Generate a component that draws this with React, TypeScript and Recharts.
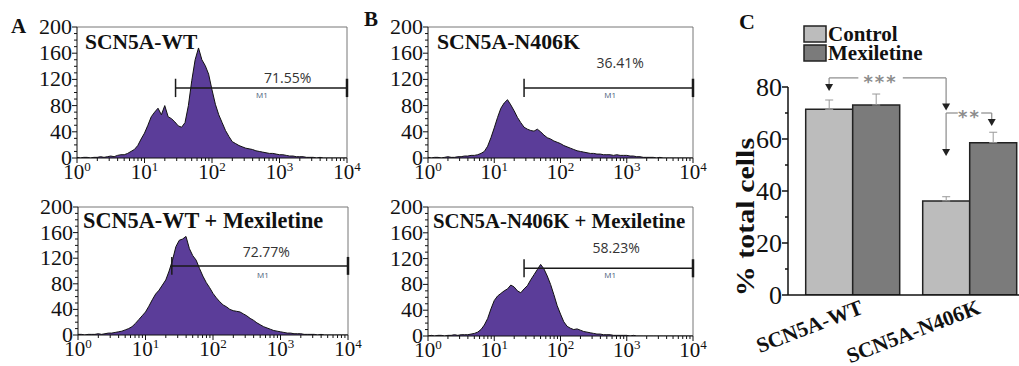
import React from 'react';
import {
  AreaChart, Area, XAxis, YAxis, ReferenceLine, ReferenceDot,
  BarChart, Bar, ErrorBar, Legend,
} from 'recharts';

// histogram channels, one every 0.05 decade from 10^0 to 10^4
const BIN_STEP = 0.05;

const wtCounts = [
  1, 0, 1, 1, 0, 1, 1, 2, 1, 2, 3, 2, 4, 5, 5, 7, 10, 13, 19, 29,
  38, 50, 63, 70, 76, 66, 80, 63, 60, 55, 49, 47, 54, 80, 118, 150, 168, 150, 141, 128,
  104, 82, 66, 54, 42, 33, 25, 22, 19, 17, 15, 14, 13, 11, 10, 9, 8, 7, 7, 6,
  5, 5, 4, 3, 3, 2, 2, 2, 1, 1, 1, 0, 1, 0, 0, 0, 0, 0, 0, 0, 0,
];
const wtMexCounts = [
  1, 1, 0, 1, 1, 1, 2, 1, 2, 3, 3, 4, 5, 6, 8, 10, 13, 18, 24, 30,
  36, 45, 55, 64, 70, 78, 86, 100, 117, 138, 148, 150, 154, 135, 124, 117, 104, 92, 82, 74,
  65, 58, 52, 47, 44, 40, 38, 37, 36, 33, 30, 26, 23, 19, 16, 13, 11, 9, 7, 6,
  5, 4, 3, 3, 2, 2, 2, 1, 1, 1, 1, 0, 1, 0, 0, 0, 0, 0, 0, 0, 0,
];
const n406kCounts = [
  1, 0, 1, 1, 0, 1, 2, 1, 1, 2, 2, 3, 3, 4, 4, 5, 7, 10, 18, 31,
  46, 62, 76, 84, 89, 81, 72, 62, 54, 47, 44, 42, 41, 44, 40, 35, 31, 29, 26, 24,
  22, 19, 17, 15, 13, 11, 10, 9, 8, 7, 7, 6, 6, 5, 5, 5, 4, 5, 4, 4,
  4, 3, 3, 2, 2, 1, 1, 1, 1, 0, 1, 0, 0, 0, 0, 0, 0, 0, 0, 0, 0,
];
const n406kMexCounts = [
  0, 1, 0, 1, 1, 0, 1, 1, 2, 1, 2, 2, 2, 3, 4, 6, 10, 17, 27, 42,
  55, 62, 66, 70, 73, 79, 76, 70, 67, 73, 78, 87, 95, 103, 111, 104, 93, 80, 64, 47,
  34, 22, 15, 12, 10, 11, 9, 7, 6, 5, 4, 3, 3, 2, 2, 2, 1, 1, 1, 1,
  1, 0, 1, 0, 0, 0, 0, 0, 0, 0, 0, 0, 0, 0, 0, 0, 0, 0, 0, 0, 0,
];

const countTicks = [0, 10, 20, 30, 40, 50, 60, 70, 80, 90, 100, 110, 120, 130, 140, 150, 160, 170, 180, 190, 200];

// panel C
const groups = ['SCN5A-WT', 'SCN5A-N406K'];
const groupSlots = [1, 3]; // centre of each group on the 0..4 annotation axis
const controlPct = [71.4, 36.2];
const mexPct = [73.1, 58.6];
const controlSem = [3.6, 1.6];
const mexSem = [4.2, 4.0];
const pctTicks = [0, 10, 20, 30, 40, 50, 60, 70, 80];

const SERIF = "'Liberation Serif', 'Times New Roman', serif";
const SANS = "'Open Sans', 'Liberation Sans', sans-serif";
const PURPLE = '#5b3d99';
const FRAME = '#777';

// log minor ticks 2..9 in every decade
const logTicks = [0, 1, 2, 3].flatMap((d) => [1, 2, 3, 4, 5, 6, 7, 8, 9].map((k) => d + Math.log10(k))).concat(4);

const HistXTick = (props: any) => {
  const { x, y, payload } = props;
  const major = Number.isInteger(payload.value);
  return (
    <g>
      <line x1={x} x2={x} y1={y} y2={y + (major ? 5 : 3)} stroke="#111" />
      {major && (
        <text x={x} y={y + 21} textAnchor="middle" fontFamily={SERIF} fontSize={21} fill="#111">
          10<tspan dy={-8} fontSize={13}>{payload.value}</tspan>
        </text>
      )}
    </g>
  );
};

const HistYTick = (props: any) => {
  const { x, y, payload } = props;
  const major = payload.value % 40 === 0;
  return (
    <g>
      <line x1={x} x2={x - (major ? 5 : 3)} y1={y} y2={y} stroke="#111" />
      {major && (
        <text x={x - 5} y={y + 7} textAnchor="end" fontFamily={SERIF} fontSize={22} fill="#111">
          {payload.value}
        </text>
      )}
    </g>
  );
};

type Plot = { left: number; top: number; width: number; height: number };

interface HistProps {
  counts: number[];
  plot: Plot;
  gateStart: number;
  gateLevel: number;
  pct: string;
  pctAt: [number, number];
  m1At: [number, number];
}

const Histogram = ({ counts, plot, gateStart, gateLevel, pct, pctAt, m1At }: HistProps) => {
  const data = counts.map((c, i) => ({ bin: Math.round(i * BIN_STEP * 100) / 100, count: c }));
  const padL = 60, padT = 12, padR = 18, axisH = 30;
  const gate = { stroke: '#1a1a1a', strokeWidth: 1.5, ifOverflow: 'visible' as const };
  return (
    <div style={{ position: 'absolute', left: plot.left - padL, top: plot.top - padT }}>
      <AreaChart
        width={plot.width + padL + padR}
        height={plot.height + padT + axisH}
        data={data}
        margin={{ top: padT, right: padR, left: 0, bottom: 0 }}
      >
        <XAxis type="number" dataKey="bin" domain={[0, 4]} ticks={logTicks} interval={0}
          tick={HistXTick} tickLine={false} tickSize={0} tickMargin={0} height={axisH}
          axisLine={{ stroke: '#111' }} allowDataOverflow />
        <YAxis type="number" domain={[0, 200]} ticks={countTicks} interval={0}
          tick={HistYTick} tickLine={false} tickSize={0} tickMargin={0} width={padL}
          axisLine={{ stroke: '#111' }} allowDataOverflow />
        <Area type="linear" dataKey="count" stroke="#111" strokeWidth={1} fill={PURPLE}
          fillOpacity={1} dot={false} activeDot={false} isAnimationActive={false} />
        <ReferenceLine y={200} stroke={FRAME} ifOverflow="visible" />
        <ReferenceLine x={4} stroke={FRAME} ifOverflow="visible" />
        <ReferenceLine segment={[{ x: gateStart, y: gateLevel }, { x: 4, y: gateLevel }]} {...gate} />
        <ReferenceLine segment={[{ x: gateStart, y: gateLevel - 14 }, { x: gateStart, y: gateLevel + 14 }]} {...gate} />
        <ReferenceLine segment={[{ x: 4, y: gateLevel - 14 }, { x: 4, y: gateLevel + 14 }]} {...gate} strokeWidth={2.5} />
        <ReferenceDot x={pctAt[0]} y={pctAt[1]} r={1} ifOverflow="visible"
          shape={(p: any) => (
            <text x={p.cx} y={p.cy + 5} textAnchor="middle" fontFamily={SANS} fontSize={14} fill="#333">{pct}</text>
          )} />
        <ReferenceDot x={m1At[0]} y={m1At[1]} r={1} ifOverflow="visible"
          shape={(p: any) => (
            <text x={p.cx} y={p.cy + 3} textAnchor="middle" fontFamily={SANS} fontSize={8} fill="#4a5a7a">M1</text>
          )} />
      </AreaChart>
    </div>
  );
};

const PctYTick = (props: any) => {
  const { x, y, payload } = props;
  const major = payload.value % 20 === 0;
  return (
    <g>
      <line x1={x} x2={x - (major ? 6 : 3)} y1={y} y2={y} stroke="#111" strokeWidth={1.5} />
      {major && (
        <text x={x - 6} y={y + 9} textAnchor="end" fontFamily={SERIF} fontSize={26} fill="#111">
          {payload.value}
        </text>
      )}
    </g>
  );
};

const GroupTick = (props: any) => {
  const { x, y, payload } = props;
  const tx = x + 12, ty = y + 18;
  return (
    <text x={tx} y={ty} transform={`rotate(-21, ${tx}, ${ty})`} textAnchor="end"
      fontFamily={SERIF} fontWeight="bold" fontSize={21.5} fill="#111">
      {payload.value}
    </text>
  );
};

const BarLegend = (props: any) => (
  <svg width={150} height={44}>
    {(props.payload || []).map((p: any, i: number) => (
      <g key={p.value}>
        <rect x={1} y={1 + i * 19} width={22} height={16} fill={p.color} stroke="#222" strokeWidth={1.5} />
        <text x={25} y={16 + i * 19} fontFamily={SERIF} fontWeight="bold" fontSize={21} fill="#111">{p.value}</text>
      </g>
    ))}
  </svg>
);

const arrowDown = (p: any) => (
  <path d={`M${p.cx - 4},${p.cy - 7} L${p.cx + 4},${p.cy - 7} L${p.cx},${p.cy} Z`} fill="#222" />
);
const stars = (s: string) => (p: any) => (
  <text x={p.cx} y={p.cy + 10} textAnchor="middle" fontFamily="'DejaVu Sans', sans-serif"
    fontWeight="bold" fontSize={18} letterSpacing={2} fill="#8c8c8c">{s}</text>
);

const PercentBars = () => {
  const data = groups.map((g, i) => ({
    group: g,
    slot: groupSlots[i],
    control: controlPct[i],
    mexiletine: mexPct[i],
    controlErr: [0, controlSem[i]],
    mexErr: [0, mexSem[i]],
  }));
  const line = { stroke: '#8a8a8a', strokeWidth: 1.2, xAxisId: 'pos', ifOverflow: 'visible' as const };
  const dot = { xAxisId: 'pos', r: 1, ifOverflow: 'visible' as const };
  return (
    <div style={{ position: 'absolute', left: 700, top: 0 }}>
      <BarChart width={330} height={366} data={data} margin={{ top: 87, right: 2, left: 0, bottom: 11 }}
        barCategoryGap="10%" barGap={0}>
        <XAxis dataKey="group" height={60} padding={{ left: 6, right: 0 }} tick={GroupTick}
          tickLine={false} tickSize={0} tickMargin={0} interval={0} axisLine={{ stroke: '#111', strokeWidth: 1.5 }} />
        <XAxis xAxisId="pos" dataKey="slot" type="number" domain={[0, 4]} padding={{ left: 6, right: 0 }}
          hide allowDataOverflow />
        <YAxis type="number" domain={[0, 80]} ticks={pctTicks} interval={0} width={88} tick={PctYTick}
          tickLine={false} tickSize={0} tickMargin={0} axisLine={{ stroke: '#111', strokeWidth: 1.5 }} allowDataOverflow />
        <Legend layout="vertical" align="center" verticalAlign="middle" content={BarLegend}
          wrapperStyle={{ left: 103, top: 25, width: 150, height: 44 }} />
        <Bar dataKey="control" name="Control" fill="#bcbcbc" stroke="#222" strokeWidth={1.5} isAnimationActive={false}>
          <ErrorBar dataKey="controlErr" direction="y" width={4} stroke="#999" strokeWidth={1} />
        </Bar>
        <Bar dataKey="mexiletine" name="Mexiletine" fill="#7b7b7b" stroke="#222" strokeWidth={1.5} isAnimationActive={false}>
          <ErrorBar dataKey="mexErr" direction="y" width={4} stroke="#999" strokeWidth={1} />
        </Bar>
        {/* *** : WT control vs N406K control */}
        <ReferenceLine segment={[{ x: 0.6, y: 83.5 }, { x: 1.1, y: 83.5 }]} {...line} />
        <ReferenceLine segment={[{ x: 1.86, y: 83.5 }, { x: 2.6, y: 83.5 }]} {...line} />
        <ReferenceLine segment={[{ x: 0.6, y: 83.5 }, { x: 0.6, y: 80 }]} {...line} />
        <ReferenceLine segment={[{ x: 2.6, y: 83.5 }, { x: 2.6, y: 72 }]} {...line} />
        <ReferenceDot x={0.6} y={78.5} {...dot} shape={arrowDown} />
        <ReferenceDot x={2.6} y={71} {...dot} shape={arrowDown} />
        <ReferenceDot x={1.48} y={83.5} {...dot} shape={stars('***')} />
        {/* ** : N406K control vs N406K mexiletine */}
        <ReferenceLine segment={[{ x: 2.6, y: 70 }, { x: 2.8, y: 70 }]} {...line} />
        <ReferenceLine segment={[{ x: 3.2, y: 70 }, { x: 3.38, y: 70 }]} {...line} />
        <ReferenceLine segment={[{ x: 2.6, y: 70 }, { x: 2.6, y: 55 }]} {...line} />
        <ReferenceLine segment={[{ x: 3.38, y: 70 }, { x: 3.38, y: 66 }]} {...line} />
        <ReferenceDot x={2.6} y={53.5} {...dot} shape={arrowDown} />
        <ReferenceDot x={3.38} y={65} {...dot} shape={arrowDown} />
        <ReferenceDot x={3.0} y={70} {...dot} shape={stars('**')} />
      </BarChart>
    </div>
  );
};

const Overlay = () => (
  <svg width={1019} height={366} style={{ position: 'absolute', left: 0, top: 0, pointerEvents: 'none' }}>
    <g fontFamily={SERIF} fontWeight="bold" fill="#111">
      <text x={11} y={33} fontSize={21}>A</text>
      <text x={364} y={26} fontSize={21}>B</text>
      <text x={739} y={29} fontSize={22}>C</text>
      <text x={85} y={49} fontSize={21.5}>SCN5A-WT</text>
      <text x={83} y={228} fontSize={22.3}>SCN5A-WT + Mexiletine</text>
      <text x={437} y={49} fontSize={21.8}>SCN5A-N406K</text>
      <text x={433} y={228} fontSize={20.8}>SCN5A-N406K + Mexiletine</text>
      <text x={0} y={0} fontSize={25} textAnchor="middle"
        transform="translate(754, 217) rotate(-90) scale(1.2, 1)">% total cells</text>
    </g>
  </svg>
);

export default function App() {
  return (
    <div style={{ position: 'absolute', left: 0, top: 0, width: 1019, height: 366, overflow: 'hidden', background: '#fff' }}>
      <Histogram counts={wtCounts} plot={{ left: 77, top: 27, width: 270, height: 131 }}
        gateStart={1.46} gateLevel={107} pct="71.55%" pctAt={[3.12, 122]} m1At={[2.74, 96]} />
      <Histogram counts={wtMexCounts} plot={{ left: 78, top: 207, width: 270, height: 128 }}
        gateStart={1.39} gateLevel={108} pct="72.77%" pctAt={[2.79, 130]} m1At={[2.74, 94]} />
      <Histogram counts={n406kCounts} plot={{ left: 428, top: 27, width: 265, height: 131 }}
        gateStart={1.45} gateLevel={107} pct="36.41%" pctAt={[2.9, 145]} m1At={[2.75, 96]} />
      <Histogram counts={n406kMexCounts} plot={{ left: 428, top: 207, width: 265, height: 129 }}
        gateStart={1.45} gateLevel={105} pct="58.23%" pctAt={[2.84, 136]} m1At={[2.75, 95]} />
      <PercentBars />
      <Overlay />
    </div>
  );
}
